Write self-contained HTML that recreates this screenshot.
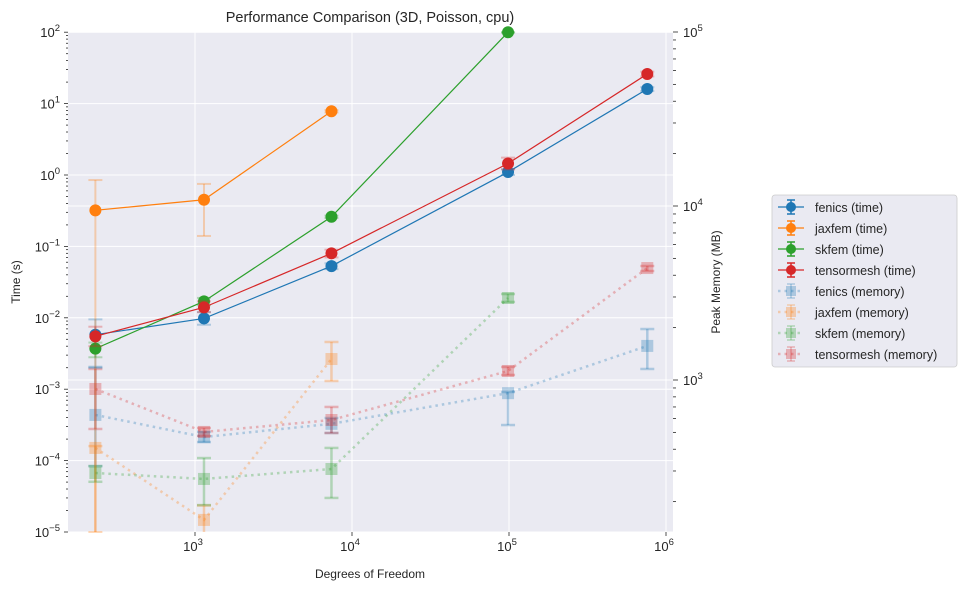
<!DOCTYPE html>
<html><head><meta charset="utf-8"><style>
body{margin:0;background:#fff;font-family:"Liberation Sans","DejaVu Sans",sans-serif;}
svg text{font-family:"Liberation Sans","DejaVu Sans",sans-serif;fill:#262626;}
</style></head><body>
<svg id="chart" width="966" height="593" xmlns="http://www.w3.org/2000/svg"></svg>
<script>
const dofs = [232, 1141, 7400, 98600, 760000];
const seriesNames = ["fenics", "jaxfem", "skfem", "tensormesh"];
const colors = ["#1f77b4", "#ff7f0e", "#2ca02c", "#d62728"];
const timeFenics = [5.8e-3, 9.8e-3, 0.053, 1.1, 16];
const timeJaxfem = [0.32, 0.45, 7.8];
const timeSkfem = [3.7e-3, 0.017, 0.26, 100];
const timeTensormesh = [5.5e-3, 0.014, 0.08, 1.45, 26];
const timeErrFenics = [[2e-3, 9.5e-3], [8e-3, 1.2e-2], [0.048, 0.058], [1.0, 1.2], [15, 17]];
const timeErrJaxfem = [[1e-5, 0.85], [0.14, 0.75], [7.5, 8.1]];
const timeErrSkfem = [[2.8e-3, 4.5e-3], [0.015, 0.019], [0.25, 0.27], [98, 102]];
const timeErrTensormesh = [[4e-3, 7.5e-3], [0.012, 0.017], [0.07, 0.09], [1.2, 1.75], [24, 28]];
const memFenics = [630, 470, 560, 840, 1570];
const memJaxfem = [407, 157, 1320];
const memSkfem = [292, 270, 308, 2960];
const memTensormesh = [888, 503, 589, 1127, 4400];
const memErrFenics = [[320, 1188], [440, 503], [496, 605], [551, 853], [1157, 1963]];
const memErrJaxfem = [[100, 417], [100, 190], [987, 1654]];
const memErrSkfem = [[260, 320], [191, 356], [210, 407], [2810, 3120]];
const memErrTensormesh = [[523, 1157], [477, 530], [496, 700], [1069, 1188], [4230, 4520]];
const xTicks = [3, 4, 5, 6];
const yTicksLeft = [-5, -4, -3, -2, -1, 0, 1, 2];
const yTicksRight = [3, 4, 5];

const L = 68, R = 673, T = 32, B = 532;
const sx = d => 195 + 157 * (Math.log10(d) - 3);
const syL = v => 175 - 71.4 * Math.log10(v);
const syR = v => 380 - 174 * (Math.log10(v) - 3);
const clampY = y => Math.max(T, Math.min(B, y));

const svg = document.getElementById('chart');
const NS = 'http://www.w3.org/2000/svg';
function mk(tag, attrs, parent) {
  const e = document.createElementNS(NS, tag);
  for (const k in attrs) e.setAttribute(k, attrs[k]);
  (parent || svg).appendChild(e);
  return e;
}

const bg = mk('rect', {x: L, y: T, width: R - L, height: B - T, fill: '#eaeaf2'});



const grid = mk('g', {stroke: '#fff', 'stroke-width': 1});


xTicks.forEach(p => mk('line', {x1: sx(10 ** p), x2: sx(10 ** p), y1: T, y2: B}, grid));
yTicksLeft.forEach(p => mk('line', {x1: L, x2: R, y1: syL(10 ** p), y2: syL(10 ** p)}, grid));
yTicksRight.forEach(p => mk('line', {x1: L, x2: R, y1: syR(10 ** p), y2: syR(10 ** p)}, grid));

const axes = mk('g', {stroke: '#262626', 'stroke-width': 0.8});


for (let p = -5; p < 2; p++) for (let m = 2; m < 10; m++) {
  const y = syL(m * 10 ** p);
  mk('line', {x1: L - 2, x2: L, y1: y, y2: y}, axes);
}
yTicksLeft.forEach(p => {
  const y = syL(10 ** p);
  mk('line', {x1: L - 4, x2: L, y1: y, y2: y}, axes);
  const t = mk('text', {x: L - 8, y: y + 5, 'text-anchor': 'end', 'font-size': 13});
  
  
  t.innerHTML = '10<tspan dy="-6" font-size="9.5">' + (p < 0 ? '\u2212' + (-p) : p) + '</tspan>';
});
for (let p = 2; p < 5; p++) for (let m = 2; m < 10; m++) {
  const y = syR(m * 10 ** p);
  if (y > B || y < T) continue;
  mk('line', {x1: 673, x2: 676, y1: y, y2: y}, axes);
}
yTicksRight.forEach(p => {
  const y = syR(10 ** p);
  mk('line', {x1: 673, x2: 678, y1: y, y2: y}, axes);
  const t = mk('text', {x: 683, y: y + 5, 'font-size': 13});
  
  
  t.innerHTML = '10<tspan dy="-6" font-size="9.5">' + p + '</tspan>';
});
xTicks.forEach(p => {
  const x = sx(10 ** p);
  mk('line', {x1: x, x2: x, y1: B, y2: B + 4}, axes);
  const t = mk('text', {x: x - 2, y: B + 19, 'text-anchor': 'middle', 'font-size': 13});
  
  
  t.innerHTML = '10<tspan dy="-6" font-size="9.5">' + p + '</tspan>';
});

function drawSeries(vals, errs, color, sy, memory, name) {
  const g = mk('g', {});
  
  
  const pts = vals.map((v, i) => [sx(dofs[i]), sy(v)]);
  const op = memory ? 0.3 : 1;
  errs.forEach((e, i) => {
    const x = pts[i][0], y1 = clampY(sy(e[0])), y2 = clampY(sy(e[1]));
    const eg = mk('g', {stroke: color, 'stroke-opacity': 0.3, 'stroke-width': memory ? 2.5 : 2}, g);
    mk('line', {x1: x, x2: x, y1: y1, y2: y2}, eg);
    if (sy(e[0]) <= B) mk('line', {x1: x - 7, x2: x + 7, y1: y1, y2: y1}, eg);
    mk('line', {x1: x - 7, x2: x + 7, y1: y2, y2: y2}, eg);
  });
  mk('polyline', {points: pts.map(p => p.join(',')).join(' '), fill: 'none', stroke: color,
    'stroke-width': memory ? 2.5 : 1.2, 'stroke-opacity': op, 'stroke-dasharray': memory ? '2.5,4' : 'none'}, g);
  pts.forEach(p => {
    if (memory) mk('rect', {x: p[0] - 6, y: p[1] - 6, width: 12, height: 12, fill: color, 'fill-opacity': 0.3}, g);
    else mk('circle', {cx: p[0], cy: p[1], r: 6, fill: color}, g);
  });
}
const timeVals = [timeFenics, timeJaxfem, timeSkfem, timeTensormesh];
const timeErrs = [timeErrFenics, timeErrJaxfem, timeErrSkfem, timeErrTensormesh];
const memVals = [memFenics, memJaxfem, memSkfem, memTensormesh];
const memErrs = [memErrFenics, memErrJaxfem, memErrSkfem, memErrTensormesh];
seriesNames.forEach((n, i) => drawSeries(memVals[i], memErrs[i], colors[i], syR, true, n + '-memory-series'));
seriesNames.forEach((n, i) => drawSeries(timeVals[i], timeErrs[i], colors[i], syL, false, n + '-time-series'));

const title = mk('text', {x: 370, y: 22, 'text-anchor': 'middle', 'font-size': 14.5});


title.textContent = 'Performance Comparison (3D, Poisson, cpu)';
const xt = mk('text', {x: 370, y: 578, 'text-anchor': 'middle', 'font-size': 12});


xt.textContent = 'Degrees of Freedom';
const yl = mk('text', {x: 0, y: 0, 'text-anchor': 'middle', 'font-size': 12, transform: 'translate(20,282) rotate(-90)'});


yl.textContent = 'Time (s)';
const yr = mk('text', {x: 0, y: 0, 'text-anchor': 'middle', 'font-size': 12, transform: 'translate(720,282) rotate(-90)'});


yr.textContent = 'Peak Memory (MB)';

const lg = mk('g', {});


mk('rect', {x: 772, y: 195, width: 185, height: 172, rx: 3, fill: '#eaeaf2', stroke: '#ccc', 'stroke-width': 0.8}, lg);
const labels = seriesNames.map(n => n + ' (time)').concat(seriesNames.map(n => n + ' (memory)'));
labels.forEach((lab, i) => {
  const y = 207 + i * 21, c = colors[i % 4], mem = i >= 4;
  const e = mk('g', {}, lg);
  
  
  const op = mem ? 0.3 : 1;
  mk('line', {x1: 778, x2: 804, y1: y, y2: y, stroke: c, 'stroke-opacity': op, 'stroke-width': mem ? 2.5 : 1.2, 'stroke-dasharray': mem ? '2.5,4' : 'none'}, e);
  mk('line', {x1: 791, x2: 791, y1: y - 7, y2: y + 7, stroke: c, 'stroke-opacity': op, 'stroke-width': 1.5}, e);
  mk('line', {x1: 787, x2: 795, y1: y - 7, y2: y - 7, stroke: c, 'stroke-opacity': op, 'stroke-width': 1.5}, e);
  mk('line', {x1: 787, x2: 795, y1: y + 7, y2: y + 7, stroke: c, 'stroke-opacity': op, 'stroke-width': 1.5}, e);
  if (mem) mk('rect', {x: 786, y: y - 5, width: 10, height: 10, fill: c, 'fill-opacity': 0.3}, e);
  else mk('circle', {cx: 791, cy: y, r: 5, fill: c}, e);
  const t = mk('text', {x: 815, y: y + 5, 'font-size': 12.5}, e);
  t.textContent = lab;
});
</script>
</body></html>
